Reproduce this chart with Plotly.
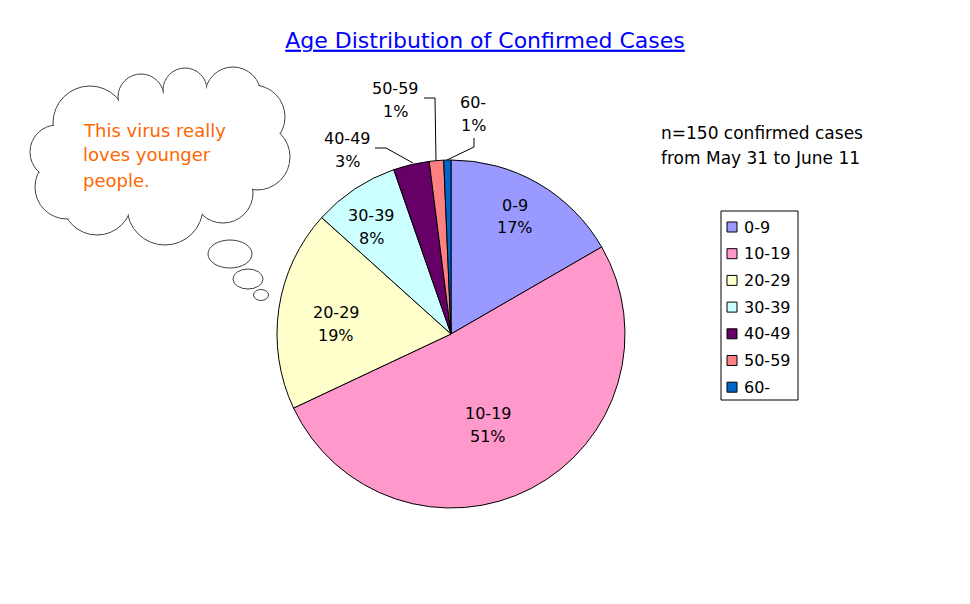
import plotly.graph_objects as go

W, H = 970, 604
OFF = 8  # page margin around the figure in the browser

# data
age_groups = ["0-9", "10-19", "20-29", "30-39", "40-49", "50-59", "60-"]
case_counts = [25, 77, 28, 12, 5, 2, 1]
slice_colors = ["#9999FF", "#FF99CC", "#FFFFCC", "#CCFFFF", "#660066", "#FF8080", "#0066CC"]
title_text = "Age Distribution of Confirmed Cases"
note_lines = ["n=150 confirmed cases", "from May 31 to June 11"]
bubble_lines = ["This virus really", "loves younger", "people."]

total = sum(case_counts)
pct_text = [f"{round(v / total * 100)}%" for v in case_counts]


def px(x):
    return (x - OFF) / W


def py(y):
    return 1 - (y - OFF) / H


FONT = "DejaVu Sans"

# pie geometry (pixels)
cx, cy, R = 451, 334, 174

fig = go.Figure(go.Pie(
    labels=age_groups,
    values=case_counts,
    sort=False,
    direction="clockwise",
    rotation=0,
    marker=dict(colors=slice_colors, line=dict(color="black", width=1)),
    textinfo="none",
    hoverinfo="label+value+percent",
    showlegend=False,
    domain=dict(x=[px(cx - R), px(cx + R)], y=[py(cy + R), py(cy - R)]),
))

annotations = []
shapes = []

# slice label positions (pixel centres of first line)
label_pos = [(515, 205), (488, 413), (336, 312), (371, 215), (347, 138), (395, 88), (473, 102)]
for name, pct, (lx, ly) in zip(age_groups, pct_text, label_pos):
    for txt, yy in ((name, ly), (pct, ly + 23)):
        annotations.append(dict(
            x=px(lx), y=py(yy), xref="paper", yref="paper", text=txt,
            showarrow=False, xanchor="center", yanchor="middle",
            font=dict(family=FONT, size=16, color="black"),
        ))

for i, line in enumerate(note_lines):
    annotations.append(dict(
        x=px(659), y=py(133 + 25 * i), xref="paper", yref="paper", text=line,
        showarrow=False, xanchor="left", yanchor="middle",
        font=dict(family=FONT, size=17, color="black"),
    ))

for i, line in enumerate(bubble_lines):
    annotations.append(dict(
        x=px(81), y=py(130 + 25 * i), xref="paper", yref="paper", text=line,
        showarrow=False, xanchor="left", yanchor="middle",
        font=dict(family=FONT, size=18, color="#FF6600"),
    ))

# legend box
shapes.append(dict(type="rect", xref="paper", yref="paper",
                   x0=px(721), x1=px(798), y0=py(400), y1=py(211),
                   fillcolor="white", line=dict(color="black", width=1)))
for i, (name, col) in enumerate(zip(age_groups, slice_colors)):
    yc = 227 + 26.7 * i
    shapes.append(dict(type="rect", xref="paper", yref="paper",
                       x0=px(727), x1=px(737), y0=py(yc + 5), y1=py(yc - 5),
                       fillcolor=col, line=dict(color="black", width=1)))
    annotations.append(dict(
        x=px(742), y=py(yc), xref="paper", yref="paper", text=name,
        showarrow=False, xanchor="left", yanchor="middle",
        font=dict(family=FONT, size=16, color="black"),
    ))

# leader lines for the small slices
leaders = [
    [(375, 148), (386, 148), (413, 163)],
    [(424, 98), (435, 98), (436, 161)],
    [(474, 138), (474, 147), (447, 160)],
]
for pts in leaders:
    path = "M " + " L ".join(f"{px(x)},{py(y)}" for x, y in pts)
    shapes.append(dict(type="path", xref="paper", yref="paper", path=path,
                       line=dict(color="black", width=1)))

# thought cloud built from overlapping circles
lobes = [(90, 123, 37), (141, 97, 23), (185, 90, 22), (233, 95, 28), (253, 117, 32),
         (257, 157, 33), (223, 193, 30), (165, 207, 38), (97, 200, 35), (67, 187, 32),
         (57, 152, 27)]
edge = "#404040"
for x, y, r in lobes:
    shapes.append(dict(type="circle", xref="paper", yref="paper",
                       x0=px(x - r), x1=px(x + r), y0=py(y + r), y1=py(y - r),
                       fillcolor="white", line=dict(color=edge, width=1)))
for x, y, r in lobes:
    r2 = r - 0.9
    shapes.append(dict(type="circle", xref="paper", yref="paper",
                       x0=px(x - r2), x1=px(x + r2), y0=py(y + r2), y1=py(y - r2),
                       fillcolor="white", line=dict(width=0)))
core = "M " + " L ".join(f"{px(x)},{py(y)}" for x, y, _ in lobes) + " Z"
shapes.append(dict(type="path", xref="paper", yref="paper", path=core,
                   fillcolor="white", line=dict(width=0)))

for x, y, rx, ry in [(230, 254, 22, 14), (248, 279, 15, 10), (261, 295, 7.5, 5.5)]:
    shapes.append(dict(type="circle", xref="paper", yref="paper",
                       x0=px(x - rx), x1=px(x + rx), y0=py(y + ry), y1=py(y - ry),
                       fillcolor="white", line=dict(color=edge, width=1)))

fig.update_layout(
    width=W, height=H,
    margin=dict(l=0, r=0, t=0, b=0),
    paper_bgcolor="white",
    plot_bgcolor="white",
    font=dict(family=FONT, size=15, color="black"),
    title=dict(
        text=f"<u>{title_text}</u>",
        x=px(485), xanchor="center", xref="paper",
        y=py(40), yanchor="middle", yref="paper",
        font=dict(family=FONT, size=22, color="#0000FF"),
    ),
    showlegend=False,
    annotations=annotations,
    shapes=shapes,
)

fig.write_html("out.html")
